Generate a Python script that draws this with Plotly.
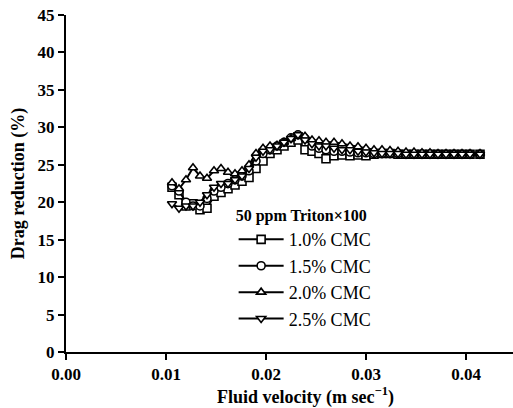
import plotly.graph_objects as go

velocity = [0.0106, 0.0113, 0.0120, 0.0127, 0.0134, 0.0141, 0.0148, 0.0155, 0.0162, 0.0169,
            0.0176, 0.0183, 0.0190, 0.0197, 0.0204, 0.0211, 0.0218, 0.0225, 0.0232, 0.0239,
            0.0246, 0.0253, 0.0260, 0.0268, 0.0276, 0.0284, 0.0292, 0.0300, 0.0308, 0.0316,
            0.0324, 0.0332, 0.0340, 0.0348, 0.0356, 0.0364, 0.0372, 0.0380, 0.0388, 0.0396,
            0.0404, 0.0414]

cmc_10 = [22.0, 21.0, 19.5, 19.8, 19.0, 19.2, 20.8, 21.3, 21.8, 22.3,
          22.8, 23.3, 24.5, 25.5, 26.5, 27.0, 27.5, 28.0, 28.3, 27.0,
          26.8, 26.5, 25.8, 26.2, 26.3, 26.2, 26.3, 26.2, 26.4, 26.5,
          26.5, 26.4, 26.4, 26.4, 26.4, 26.4, 26.4, 26.4, 26.4, 26.4,
          26.4, 26.4]
cmc_15 = [22.2, 21.5, 20.0, 19.5, 19.5, 20.5, 21.5, 22.0, 22.5, 23.0,
          23.5, 24.2, 25.5, 26.5, 27.0, 27.5, 28.0, 28.6, 29.0, 28.5,
          27.5, 27.2, 27.0, 26.8, 26.8, 26.7, 26.6, 26.6, 26.5, 26.5,
          26.5, 26.5, 26.4, 26.4, 26.4, 26.4, 26.4, 26.4, 26.4, 26.4,
          26.4, 26.4]
cmc_20 = [22.6, 21.8, 23.0, 24.6, 23.5, 23.2, 24.2, 24.5, 24.0, 23.8,
          24.2, 25.0, 26.5, 27.2, 27.5, 27.6, 28.0, 28.5, 28.8, 28.8,
          28.3, 28.2, 28.0, 28.0, 27.8, 27.5, 27.4, 27.2, 27.0, 27.0,
          26.9, 26.8, 26.7, 26.7, 26.6, 26.6, 26.5, 26.5, 26.5, 26.5,
          26.5, 26.5]
cmc_25 = [19.8, 19.2, 19.5, 19.5, 20.0, 21.0, 22.0, 22.5, 22.5, 23.0,
          23.5, 24.5, 26.0, 26.8, 27.0, 27.5, 28.0, 28.5, 29.0, 28.3,
          27.8, 27.5, 27.5, 27.2, 27.0, 27.0, 26.8, 26.7, 26.6, 26.5,
          26.5, 26.5, 26.4, 26.4, 26.4, 26.4, 26.4, 26.4, 26.4, 26.4,
          26.4, 26.4]

series_names = ["1.0% CMC", "1.5% CMC", "2.0% CMC", "2.5% CMC"]
series_values = [cmc_10, cmc_15, cmc_20, cmc_25]
symbols = ["square", "circle", "triangle-up", "triangle-down"]

y_ticks = [0, 5, 10, 15, 20, 25, 30, 35, 40, 45]
x_ticks = [0.00, 0.01, 0.02, 0.03, 0.04]

x_title = "<b>Fluid velocity (m sec<sup>−1</sup>)</b>"
y_title = "<b>Drag reduction (%)</b>"
legend_title = "<b>50 ppm Triton×100</b>"

FONT = "Liberation Serif"

fig = go.Figure()
for name, vals, sym in zip(series_names, series_values, symbols):
    fig.add_trace(go.Scatter(
        x=velocity, y=vals, name=name, mode="lines+markers",
        line=dict(color="black", width=2),
        marker=dict(symbol=sym, size=8, color="white",
                    line=dict(color="black", width=1.6)),
    ))

fig.add_annotation(
    text=x_title, xref="paper", yref="paper", x=0.535, y=-0.132,
    xanchor="center", yanchor="middle", showarrow=False,
    font=dict(family=FONT, size=18, color="black"),
)

fig.update_layout(
    width=513, height=408,
    margin=dict(l=66, r=0, t=15, b=56),
    paper_bgcolor="white", plot_bgcolor="white",
    font=dict(family=FONT, color="black", size=17),
    legend=dict(
        title=dict(text=legend_title, font=dict(family=FONT, size=16)),
        x=0.375, y=0.45, xanchor="left", yanchor="top",
        bgcolor="rgba(0,0,0,0)", font=dict(family=FONT, size=18),
        tracegroupgap=0, itemwidth=45,
    ),
    xaxis=dict(
        range=[0, 0.0447], tickvals=x_ticks, tickformat=".2f",
        ticks="outside", ticklen=6, tickwidth=2, tickcolor="black",
        showline=True, linewidth=2, linecolor="black",
        showgrid=False, zeroline=False,
        tickfont=dict(family=FONT, size=17, weight="bold"),
    ),
    yaxis=dict(
        range=[0, 45], tickvals=y_ticks,
        ticks="outside", ticklen=6, tickwidth=2, tickcolor="black",
        showline=True, linewidth=2, linecolor="black",
        showgrid=False, zeroline=False,
        tickfont=dict(family=FONT, size=17, weight="bold"),
        title=dict(text=y_title, font=dict(family=FONT, size=18), standoff=8),
    ),
)

fig.write_html("out.html")
